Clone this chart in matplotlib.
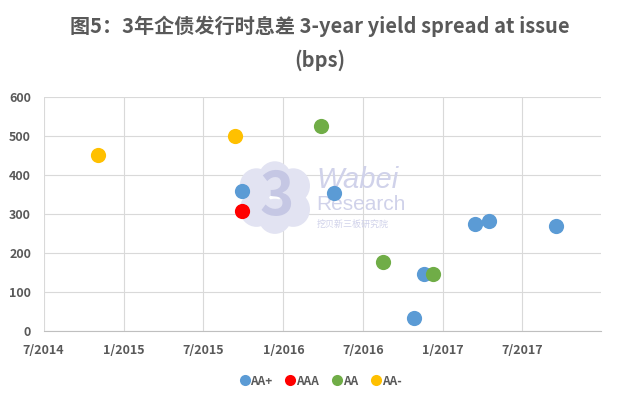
import matplotlib
matplotlib.use('Agg')
import matplotlib.pyplot as plt
from matplotlib.lines import Line2D
from matplotlib.patches import Ellipse
import datetime as dt

plt.rcParams['font.family'] = ['Noto Sans CJK SC', 'DejaVu Sans']

# 데이터 (발행일, 스프레드 bps)
aa_plus_dates = ['2015-09-28', '2016-04-25', '2016-10-25', '2016-11-18', '2017-03-14', '2017-04-15', '2017-09-15']
aa_plus_vals = [360, 355, 33, 147, 274, 282, 268]
aaa_dates = ['2015-09-28']
aaa_vals = [308]
aa_dates = ['2016-03-28', '2016-08-15', '2016-12-08']
aa_vals = [525, 177, 145]
aa_minus_dates = ['2014-11-03', '2015-09-12']
aa_minus_vals = [450, 500]

series = [
    ('AA+', aa_plus_dates, aa_plus_vals, '#5B9BD5'),
    ('AAA', aaa_dates, aaa_vals, '#FF0000'),
    ('AA', aa_dates, aa_vals, '#70AD47'),
    ('AA-', aa_minus_dates, aa_minus_vals, '#FFC000'),
]

def to_dt(lst):
    return [dt.datetime.strptime(s, '%Y-%m-%d') for s in lst]

fig = plt.figure(figsize=(6.4, 3.97), dpi=100)
ax = fig.add_axes([0.068, 0.166, 0.871, 0.590])

for name, d, v, c in series:
    ax.scatter(to_dt(d), v, s=120, color=c, zorder=3, linewidths=0)

# 축 설정
ax.set_ylim(0, 600)
ax.set_yticks(range(0, 601, 100))
ax.set_xlim(dt.datetime(2014, 7, 1), dt.datetime(2017, 12, 28))
ticks = [dt.datetime(2014, 7, 1), dt.datetime(2015, 1, 1), dt.datetime(2015, 7, 1),
         dt.datetime(2016, 1, 1), dt.datetime(2016, 7, 1), dt.datetime(2017, 1, 1),
         dt.datetime(2017, 7, 1)]
ax.set_xticks(ticks)
ax.set_xticklabels([f'{t.month}/{t.year}' for t in ticks])

ax.grid(True, color='#D9D9D9', linewidth=0.8)
ax.set_axisbelow(True)
for sp in ['top', 'right', 'left']:
    ax.spines[sp].set_visible(False)
ax.spines['bottom'].set_color('#BFBFBF')
ax.tick_params(length=0, labelsize=9, labelcolor='#595959')
ax.tick_params(axis='y', pad=9)
ax.tick_params(axis='x', pad=9)
for lab in ax.get_xticklabels() + ax.get_yticklabels():
    lab.set_fontweight('bold')

# 워터마크 (로고 + 글자)
cloud = '#E2E3F2'
for cx, cy in [(0.382, 0.62), (0.382, 0.52), (0.448, 0.62), (0.448, 0.52),
               (0.415, 0.65), (0.415, 0.49)]:
    ax.add_patch(Ellipse((cx, cy), 0.06, 0.15, transform=ax.transAxes,
                         facecolor=cloud, edgecolor='none', zorder=1))
ax.text(0.418, 0.57, '3', transform=ax.transAxes, fontsize=42, color='#C5C7E4',
        fontweight='bold', ha='center', va='center', zorder=1)
ax.text(0.49, 0.645, 'Wabei', transform=ax.transAxes, fontsize=21, color='#D0D2EA',
        style='italic', family='Liberation Sans', ha='left', va='center', zorder=1)
ax.text(0.49, 0.54, 'Research', transform=ax.transAxes, fontsize=15, color='#D0D2EA',
        family='Liberation Sans', ha='left', va='center', zorder=1)
ax.text(0.49, 0.455, '挖贝新三板研究院', transform=ax.transAxes, fontsize=6.5,
        color='#D0D2EA', ha='left', va='center', zorder=1)

# 제목
fig.text(0.5, 0.935, '图5：3年企债发行时息差 3-year yield spread at issue',
         ha='center', va='center', fontsize=14.5, fontweight='bold', color='#595959')
fig.text(0.5, 0.849, '(bps)', ha='center', va='center', fontsize=14.5,
         fontweight='bold', color='#595959')

# 범례
handles = [Line2D([], [], marker='o', linestyle='', markersize=8, color=c,
                  markeredgewidth=0, label=n) for n, d, v, c in series]
leg = fig.legend(handles=handles, loc='center', bbox_to_anchor=(0.5, 0.04), ncol=4,
                 frameon=False, fontsize=8.5, handletextpad=0.0, columnspacing=1.0,
                 handlelength=1.0)
for t in leg.get_texts():
    t.set_color('#595959')
    t.set_fontweight('bold')

plt.savefig('out.png', dpi=100)
